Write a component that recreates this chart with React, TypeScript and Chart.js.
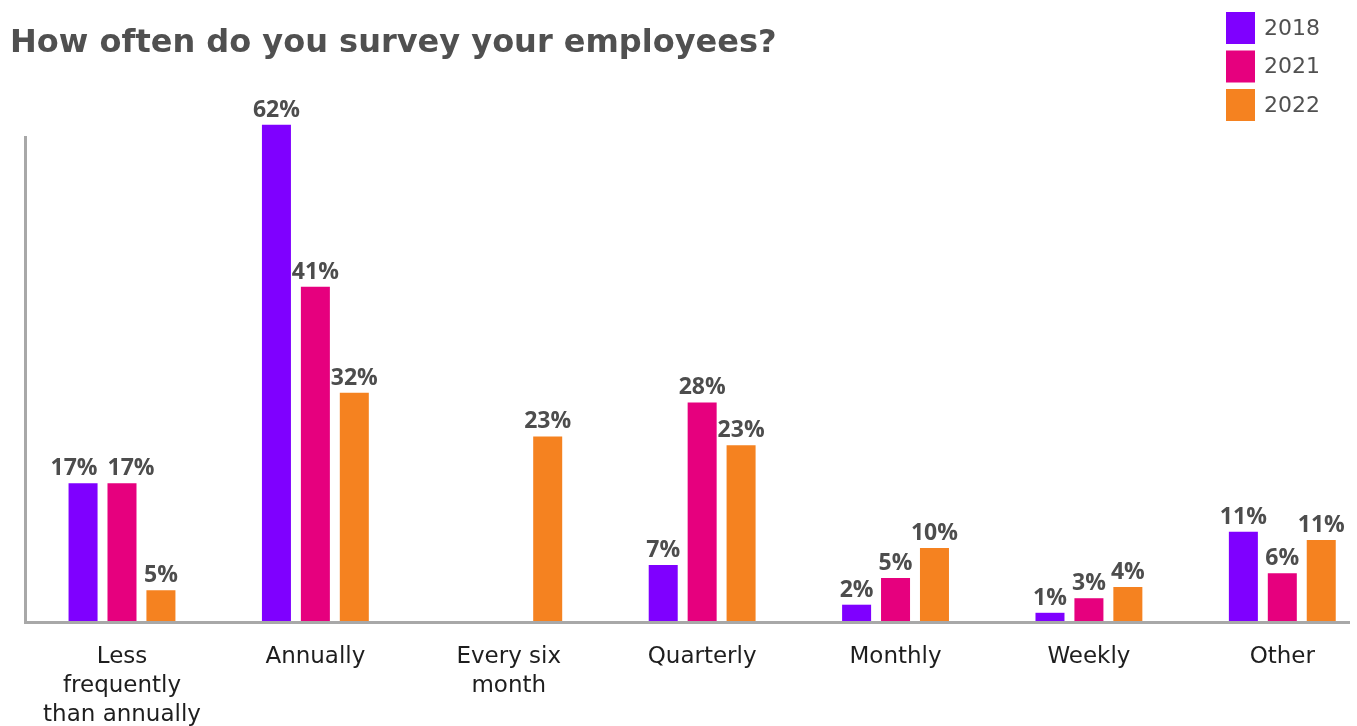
import React, { useEffect, useRef } from 'react';
import { Chart, registerables } from 'chart.js';

Chart.register(...registerables);

// ---- data ----
const categories: (string | string[])[] = [
  ['Less', 'frequently', 'than annually'],
  'Annually',
  ['Every six', 'month'],
  'Quarterly',
  'Monthly',
  'Weekly',
  'Other',
];
const seriesNames = ['2018', '2021', '2022'];

// bar heights (percent)
const values2018 = [17.2, 61.5, null, 7.1, 2.2, 1.2, 11.2];
const values2021 = [17.2, 41.5, null, 27.2, 5.5, 3.0, 6.1];
const values2022 = [4.0, 28.4, 23.0, 21.9, 9.2, 4.4, 10.2];

// value labels printed above the bars
const labels2018 = ['17%', '62%', '', '7%', '2%', '1%', '11%'];
const labels2021 = ['17%', '41%', '', '28%', '5%', '3%', '6%'];
const labels2022 = ['5%', '32%', '23%', '23%', '10%', '4%', '11%'];

const titleText = 'How often do you survey your employees?';

const colors = ['#7f00ff', '#e6007e', '#f58220'];
const seriesValues = [values2018, values2021, values2022];
const seriesLabels = [labels2018, labels2021, labels2022];

const FONT = '"DejaVu Sans", sans-serif';
const LABEL_FONT = '"Open Sans", sans-serif';

const valueLabelPlugin = {
  id: 'valueLabels',
  afterDatasetsDraw(chart: any) {
    const ctx = chart.ctx;
    ctx.save();
    ctx.font = `bold 23px ${LABEL_FONT}`;
    ctx.fillStyle = '#4d4d4d';
    ctx.textAlign = 'center';
    ctx.textBaseline = 'alphabetic';
    const n = chart.data.labels.length;
    for (let j = 0; j < n; j++) {
      const items: any[] = [];
      chart.data.datasets.forEach((ds: any, i: number) => {
        const v = ds.data[j];
        if (v === null || v === undefined) return;
        const el = chart.getDatasetMeta(i).data[j];
        const text = seriesLabels[i][j];
        items.push({ text, x: el.x, y: el.y - 8, w: ctx.measureText(text).width });
      });
      // keep neighbouring labels on the same level from overlapping
      for (let k = 1; k < items.length; k++) {
        const a = items[k - 1];
        const b = items[k];
        if (Math.abs(a.y - b.y) < 18) {
          const overlap = a.x + a.w / 2 - (b.x - b.w / 2);
          if (overlap > 0) {
            const shift = (overlap + 10) / 2;
            a.x -= shift;
            b.x += shift;
          }
        }
      }
      items.forEach((it) => ctx.fillText(it.text, it.x, it.y));
    }
    ctx.restore();
  },
};

const legendPlugin = {
  id: 'customLegend',
  afterDraw(chart: any) {
    const ctx = chart.ctx;
    ctx.save();
    ctx.font = `22px ${FONT}`;
    ctx.textAlign = 'left';
    ctx.textBaseline = 'middle';
    chart.data.datasets.forEach((ds: any, i: number) => {
      const top = 12 + i * 38.5;
      ctx.fillStyle = ds.backgroundColor;
      ctx.fillRect(1226, top, 29, 32);
      ctx.fillStyle = '#505050';
      ctx.fillText(ds.label, 1264, top + 17);
    });
    ctx.restore();
  },
};

export default function App() {
  const ref = useRef<HTMLCanvasElement | null>(null);

  useEffect(() => {
    if (!ref.current) return;
    const chart = new Chart(ref.current, {
      type: 'bar',
      data: {
        labels: categories as any,
        datasets: seriesNames.map((name, i) => ({
          label: name,
          data: seriesValues[i] as any,
          backgroundColor: colors[i],
          borderWidth: 0,
          categoryPercentage: 0.604,
          barPercentage: 0.745,
          clip: false as any,
        })),
      },
      options: {
        animation: false,
        responsive: true,
        maintainAspectRatio: false,
        layout: { padding: { left: 10, top: 0, right: 0, bottom: 0 } },
        plugins: {
          legend: { display: false },
          tooltip: { enabled: false },
          title: {
            display: true,
            text: titleText,
            align: 'start',
            color: '#505050',
            font: { family: FONT, size: 32, weight: 'bold', lineHeight: 1.2 },
            padding: { top: 24.8, bottom: 73.8 },
          },
        },
        scales: {
          x: {
            offset: true,
            grid: { display: false, drawTicks: false },
            border: { display: true, color: '#a8a8a8', width: 3, z: 1 },
            ticks: {
              color: '#1e1e1e',
              font: { family: FONT, size: 23, lineHeight: 1.27 },
              padding: 20,
              maxRotation: 0,
              autoSkip: false,
            },
            afterFit: (s: any) => {
              s.height = 103.5;
            },
          },
          y: {
            min: 0,
            max: 60,
            grid: { display: false, drawTicks: false },
            ticks: { display: false },
            border: { display: true, color: '#a8a8a8', width: 3, z: 1 },
            afterFit: (s: any) => {
              s.width = 15.3;
            },
          },
        },
      } as any,
      plugins: [valueLabelPlugin, legendPlugin],
    });
    return () => chart.destroy();
  }, []);

  return (
    <div
      style={{
        position: 'fixed',
        left: 0,
        top: 0,
        width: 1350,
        height: 726,
        overflow: 'hidden',
        background: '#fff',
      }}
    >
      <div style={{ position: 'relative', width: 1379, height: 726 }}>
        <canvas ref={ref} />
      </div>
    </div>
  );
}
